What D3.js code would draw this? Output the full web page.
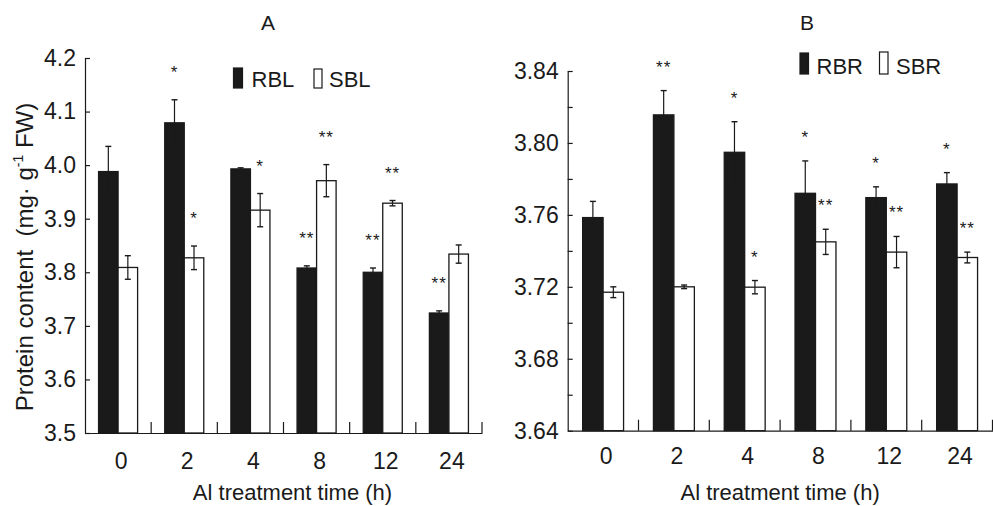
<!DOCTYPE html>
<html>
<head>
<meta charset="utf-8">
<script src="https://cdn.jsdelivr.net/npm/d3@7/dist/d3.min.js"></script>
<style>
  html, body { margin: 0; padding: 0; background: #fff; }
  svg { display: block; font-family: 'Liberation Sans', Arial, sans-serif; }
  .axis path, .axis line { stroke: #1a1a1a; stroke-width: 1.2; }
  .axis text { fill: #1a1a1a; font-family: 'Liberation Sans', Arial, sans-serif; }
</style>
</head>
<body>
<svg id="chart" width="993" height="506"></svg>
<script>
// Al treatment time categories (shared by both panels)
const timeLabels = ['0', '2', '4', '8', '12', '24'];

// Panel A - leaves
const rblMeans = [3.988, 4.079, 3.993, 3.808, 3.800, 3.724];
const rblErrors = [0.047, 0.043, 0.002, 0.004, 0.008, 0.004];
const sblMeans = [3.809, 3.827, 3.916, 3.971, 3.929, 3.834];
const sblErrors = [0.022, 0.022, 0.031, 0.030, 0.005, 0.017];
const rblStars = ['', '*', '', '**', '**', '**'];
const sblStars = ['', '*', '*', '**', '**', ''];
const leafTicks = [3.5, 3.6, 3.7, 3.8, 3.9, 4.0, 4.1, 4.2];

// Panel B - roots
const rbrMeans = [3.7585, 3.8156, 3.7948, 3.7720, 3.7696, 3.7772];
const rbrErrors = [0.009, 0.0135, 0.017, 0.018, 0.006, 0.0063];
const sbrMeans = [3.7170, 3.7200, 3.7198, 3.7450, 3.7393, 3.7363];
const sbrErrors = [0.003, 0.001, 0.0037, 0.0070, 0.0087, 0.003];
const rbrStars = ['', '**', '*', '*', '*', '*'];
const sbrStars = ['', '', '*', '**', '**', '**'];
const rootTicks = [3.64, 3.66, 3.68, 3.70, 3.72, 3.74, 3.76, 3.78, 3.80, 3.82, 3.84];

const INK = '#1a1a1a';
const svg = d3.select('#chart');

function drawPanel(p) {
  const g = svg.append('g');

  const x = d3.scaleBand()
    .domain(timeLabels)
    .range([p.left, p.right])
    .padding(0);

  const y = d3.scaleLinear()
    .domain(p.domain)
    .range([p.bottom, p.top]);

  const barW = x.bandwidth() * p.barFrac;
  const sub = d3.scaleBand()
    .domain(['r', 's'])
    .range([(x.bandwidth() - 2 * barW) / 2, (x.bandwidth() + 2 * barW) / 2]);

  const rows = timeLabels.map((t, i) => ({
    t,
    series: [
      { key: 'r', mean: p.rMeans[i], err: p.rErrors[i], star: p.rStars[i] },
      { key: 's', mean: p.sMeans[i], err: p.sErrors[i], star: p.sStars[i] }
    ]
  }));

  const groups = g.selectAll('g.group')
    .data(rows)
    .enter()
    .append('g')
    .attr('class', 'group')
    .attr('transform', d => `translate(${x(d.t)},0)`);

  const bars = groups.selectAll('g.bar')
    .data(d => d.series)
    .enter()
    .append('g')
    .attr('class', 'bar');

  // bars
  bars.append('rect')
    .attr('x', d => sub(d.key))
    .attr('y', d => y(d.mean))
    .attr('width', sub.bandwidth())
    .attr('height', d => y(p.domain[0]) - y(d.mean))
    .attr('fill', d => d.key === 'r' ? INK : '#fff')
    .attr('stroke', INK)
    .attr('stroke-width', 1.3);

  // error bars
  const cx = d => sub(d.key) + sub.bandwidth() / 2;
  bars.append('line')
    .attr('x1', cx).attr('x2', cx)
    .attr('y1', d => y(d.mean + d.err))
    .attr('y2', d => y(d.mean - d.err))
    .attr('stroke', INK)
    .attr('stroke-width', 1.2);
  [1, -1].forEach(sign => {
    bars.append('line')
      .attr('x1', d => cx(d) - 3).attr('x2', d => cx(d) + 3)
      .attr('y1', d => y(d.mean + sign * d.err))
      .attr('y2', d => y(d.mean + sign * d.err))
      .attr('stroke', d => d.key === 'r' && sign < 0 ? 'none' : INK)
      .attr('stroke-width', 1.4);
  });

  // significance marks
  bars.filter(d => d.star)
    .append('text')
    .attr('x', cx)
    .attr('y', d => y(d.mean + d.err) - p.starGap + 10)
    .attr('text-anchor', 'middle')
    .attr('font-size', 17)
    .attr('letter-spacing', 1)
    .attr('fill', INK)
    .text(d => d.star);

  // y axis, ticks pointing inward
  g.append('g')
    .attr('class', 'axis')
    .attr('transform', `translate(${p.left},0)`)
    .call(d3.axisLeft(y)
      .tickValues(p.ticks)
      .tickSizeInner(-5)
      .tickSizeOuter(0)
      .tickPadding(9)
      .tickFormat((d, i) => (i % p.labelEvery === 0 ? d3.format(p.fmt)(d) : '')))
    .call(a => a.selectAll('text').attr('font-size', 23));

  // x axis with category labels
  g.append('g')
    .attr('class', 'axis')
    .attr('transform', `translate(0,${p.bottom})`)
    .call(d3.axisBottom(x).tickSize(0).tickSizeOuter(0))
    .call(a => a.selectAll('text')
      .attr('dy', null)
      .attr('y', p.labelDrop)
      .attr('dx', 3)
      .attr('font-size', 23));

  // upward ticks at category boundaries
  g.selectAll('line.sep')
    .data(timeLabels)
    .enter()
    .append('line')
    .attr('class', 'sep')
    .attr('x1', d => x(d) + x.bandwidth())
    .attr('x2', d => x(d) + x.bandwidth())
    .attr('y1', p.bottom)
    .attr('y2', p.bottom - 11)
    .attr('stroke', INK)
    .attr('stroke-width', 1.2);

  // x axis title
  g.append('text')
    .attr('x', (p.left + p.right) / 2 + p.titleShift)
    .attr('y', 500)
    .attr('text-anchor', 'middle')
    .attr('font-size', 22)
    .attr('fill', INK)
    .text('Al treatment time (h)');

  // panel letter
  g.append('text')
    .attr('x', p.letterX)
    .attr('y', 30)
    .attr('text-anchor', p.letterAnchor)
    .attr('font-size', 21)
    .attr('fill', INK)
    .text(p.letter);

  // legend
  const lg = g.append('g');
  p.legend.forEach(item => {
    lg.append('rect')
      .attr('x', item.rx).attr('y', item.ry)
      .attr('width', item.rw).attr('height', item.rh)
      .attr('fill', item.fill)
      .attr('stroke', INK)
      .attr('stroke-width', 1.2);
    lg.append('text')
      .attr('x', item.tx).attr('y', item.ty)
      .attr('font-size', 22)
      .attr('fill', INK)
      .text(item.label);
  });
}

drawPanel({
  left: 85, right: 482, top: 58, bottom: 433,
  domain: [3.5, 4.2], ticks: leafTicks, labelEvery: 1, fmt: '.1f',
  barFrac: 0.295, starGap: 32, labelDrop: 36, titleShift: 9,
  rMeans: rblMeans, rErrors: rblErrors, rStars: rblStars,
  sMeans: sblMeans, sErrors: sblErrors, sStars: sblStars,
  letter: 'A', letterX: 268, letterAnchor: 'middle',
  legend: [
    { rx: 233.5, ry: 68, rw: 9, rh: 20, fill: INK, tx: 251.5, ty: 87, label: 'RBL' },
    { rx: 314, ry: 69, rw: 8, rh: 19, fill: '#fff', tx: 329, ty: 87, label: 'SBL' }
  ]
});

drawPanel({
  left: 567.7, right: 992.5, top: 71, bottom: 430.7,
  domain: [3.64, 3.84], ticks: rootTicks, labelEvery: 2, fmt: '.2f',
  barFrac: 0.289, starGap: 28, labelDrop: 33, titleShift: 0,
  rMeans: rbrMeans, rErrors: rbrErrors, rStars: rbrStars,
  sMeans: sbrMeans, sErrors: sbrErrors, sStars: sbrStars,
  letter: 'B', letterX: 800, letterAnchor: 'start',
  legend: [
    { rx: 800, ry: 53, rw: 8.5, rh: 21, fill: INK, tx: 816.5, ty: 74, label: 'RBR' },
    { rx: 879.5, ry: 52, rw: 8.5, rh: 22, fill: '#fff', tx: 896, ty: 74, label: 'SBR' }
  ]
});

// shared y axis title on the left
const yTitle = svg.append('text')
  .attr('transform', 'translate(33,257) rotate(-90)')
  .attr('text-anchor', 'middle')
  .attr('font-size', 24)
  .attr('fill', INK);
yTitle.append('tspan').text('Protein content\u00a0\u00a0(mg· g');
yTitle.append('tspan').attr('font-size', 14).attr('dy', -10).text('-1');
yTitle.append('tspan').attr('dy', 10).text('\u00a0FW)');
</script>
</body>
</html>
